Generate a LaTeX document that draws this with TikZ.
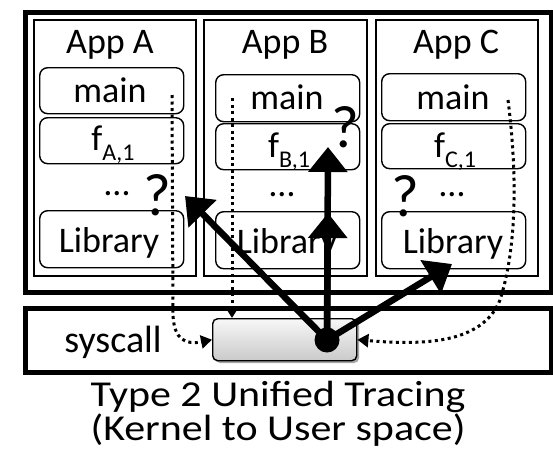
\documentclass[tikz,border=0pt]{standalone}
\usepackage{fontspec}
\setmainfont{Carlito}
\newfontfamily\capfont{Carlito}[FakeStretch=1.15]
\usetikzlibrary{arrows.meta}

\begin{document}
\begin{tikzpicture}[x=1pt,y=-1pt,
  frame/.style={draw, line width=4.5pt, rectangle, inner sep=0pt, anchor=north west},
  appbox/.style={draw, line width=1.6pt, rectangle, inner sep=0pt, anchor=north west,
                 minimum height=256pt},
  fnbox/.style={draw, line width=1.4pt, rectangle, rounded corners=8pt, inner sep=0pt,
                anchor=north west, minimum width=144pt},
  lbl/.style={font=\fontsize{36}{36}\selectfont, anchor=base, inner sep=0pt},
  dots/.style={lbl, text height=5pt, text depth=0pt},
  qmark/.style={font=\fontsize{60}{60}\selectfont, inner sep=0pt},
  bigarrow/.style={line width=6.5pt, -{Triangle[length=25pt,width=38pt]}},
  trace/.style={line width=3pt, dash pattern=on 3pt off 3.5pt,
                -{Triangle[length=11pt,width=13pt]}},
]
\useasboundingbox (0,0) rectangle (553,453);

% user space frame and the three applications
\node[frame, minimum width=526pt, minimum height=280pt] (user) at (23,10) {};
\node[appbox, minimum width=162pt] (appA) at (33,19) {};
\node[appbox, minimum width=163pt] (appB) at (203,19) {};
\node[appbox, minimum width=162pt] (appC) at (375,19) {};

\node[lbl] (tA) at (110,53) {App A};
\node[lbl] (tB) at (285,53) {App B};
\node[lbl] (tC) at (456,53) {App C};

% App A functions
\node[fnbox, minimum height=46pt] (mainA) at (39,67) {};
\node[fnbox, minimum height=46pt] (fA) at (39,117) {};
\node[fnbox, minimum height=57pt] (libA) at (39,210) {};
\node[lbl] at (110,102) {main};
\node[lbl] at (113,150) {f\raisebox{-10pt}{\fontsize{24}{24}\selectfont A,1}};
\node[dots] at (117,195) {…};
\node[lbl] at (109,252) {Library};

% App B functions
\node[fnbox, minimum height=47pt] (mainB) at (215,74) {};
\node[fnbox, minimum height=46pt] (fB) at (215,123) {};
\node[fnbox, minimum height=57pt] (libB) at (215,211) {};
\node[lbl] at (287,109) {main};
\node[lbl] at (289,157) {f\raisebox{-10pt}{\fontsize{24}{24}\selectfont B,1}};
\node[dots] at (282,196) {…};
\node[lbl] at (287,253) {Library};

% App C functions
\node[fnbox, minimum height=47pt] (mainC) at (381,73) {};
\node[fnbox, minimum height=45pt] (fC) at (381,123) {};
\node[fnbox, minimum height=57pt] (libC) at (381,211) {};
\node[lbl] at (453,109) {main};
\node[lbl] at (455,157) {f\raisebox{-10pt}{\fontsize{24}{24}\selectfont C,1}};
\node[dots] at (452,196.5) {…};
\node[lbl] at (453,253) {Library};

% kernel side
\node[frame, minimum width=526pt, minimum height=64pt] (kern) at (23,306) {};
\node[lbl, font=\fontsize{38}{38}\selectfont] (sys) at (113,352) {syscall};
\fill[black, opacity=0.35, rounded corners=5pt] (215,321) rectangle (359,363);
\node[draw, line width=1.4pt, rounded corners=5pt, anchor=north west, inner sep=0pt,
      minimum width=144pt, minimum height=42pt,
      top color=gray!6, bottom color=gray!42] (hook) at (212,318) {};
\node[circle, fill=black, minimum size=25pt, inner sep=0pt] (src) at (327,340) {};

% unresolved targets
\node[qmark] (qA) at (157,195) {?};
\node[qmark] (qB) at (345,127) {?};
\node[qmark] (qC) at (405,196) {?};

% tracing: system calls entering the kernel
\coordinate (dA) at (172,95);
\coordinate (dB) at (232,98);
\coordinate (dC) at (508,100);
\draw[trace] (dA) -- (173,315) .. controls (174,340) and (186,345) .. (hook.west);
\draw[trace] (dB) -- (hook.north -| dB);
\draw[trace] (dC) .. controls (518,180) and (516,250) .. (500,300)
             .. controls (482,345) and (420,345) .. (hook.east);

% kernel-to-user mapping attempts
\coordinate (hA) at (185,196);
\coordinate (hB1) at (328,147);
\coordinate (hB2) at (328,213);
\coordinate (hC) at (452,264);
\draw[bigarrow] (src.center) -- (hA);
\draw[bigarrow] (src.center) -- (hB1);
\draw[bigarrow] (src.center) -- (hB2);
\draw[bigarrow] (src.center) -- (hC);

% caption
\node[anchor=base, inner sep=0pt, align=center,
      font=\capfont\fontsize{36.5}{30}\selectfont] (cap) at (278,440)
  {Type 2 Unified Tracing\\(Kernel to User space)};
\end{tikzpicture}
\end{document}
